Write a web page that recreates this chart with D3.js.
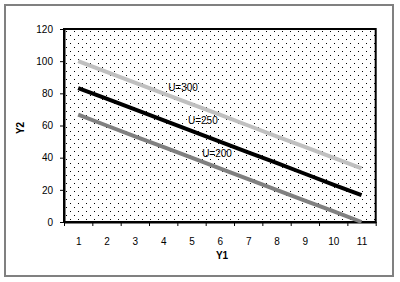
<!DOCTYPE html>
<html>
<head>
<meta charset="utf-8">
<script src="https://cdn.jsdelivr.net/npm/d3@7"></script>
<style>
  body { margin: 0; background: #fff; }
  text { font-family: Arial, "Liberation Sans", sans-serif; }
</style>
</head>
<body>
<div id="grafico"></div>
<script>
// datos
const categoriasY1 = [1, 2, 3, 4, 5, 6, 7, 8, 9, 10, 11];
const serieU300 = [100, 93.3, 86.7, 80, 73.3, 66.7, 60, 53.3, 46.7, 40, 33.3];
const serieU250 = [83.3, 76.7, 70, 63.3, 56.7, 50, 43.3, 36.7, 30, 23.3, 16.7];
const serieU200 = [66.7, 60, 53.3, 46.7, 40, 33.3, 26.7, 20, 13.3, 6.7, 0];
const nombresSeries = ["U=300", "U=250", "U=200"];
const ticksY2 = [0, 20, 40, 60, 80, 100, 120];

const width = 400;
const height = 282;
const plot = { left: 64, top: 29, right: 375.7, bottom: 222 };

const svg = d3.select("#grafico")
  .append("svg")
  .attr("width", width)
  .attr("height", height);

// patrón de puntos del área de trazado
const defs = svg.append("defs");
const pat = defs.append("pattern")
  .attr("id", "puntos")
  .attr("patternUnits", "userSpaceOnUse")
  .attr("width", 8).attr("height", 8)
  .attr("x", plot.left + 2).attr("y", plot.top + 2);
pat.append("rect").attr("width", 8).attr("height", 8).attr("fill", "#fff");
pat.append("rect").attr("x", 0).attr("y", 0).attr("width", 1).attr("height", 1).attr("fill", "#000");
pat.append("rect").attr("x", 4).attr("y", 4).attr("width", 1).attr("height", 1).attr("fill", "#000");

// marco exterior
svg.append("rect")
  .attr("x", 5).attr("y", 5)
  .attr("width", 388).attr("height", 271)
  .attr("fill", "#fff")
  .attr("stroke", "#808080")
  .attr("stroke-width", 2);

const x = d3.scaleLinear()
  .domain([0.5, categoriasY1.length + 0.5])
  .range([plot.left, plot.right]);

const y = d3.scaleLinear()
  .domain([0, 120])
  .range([plot.bottom, plot.top]);

svg.append("rect")
  .attr("x", plot.left).attr("y", plot.top)
  .attr("width", plot.right - plot.left)
  .attr("height", plot.bottom - plot.top)
  .attr("fill", "url(#puntos)")
  .attr("stroke", "#000")
  .attr("stroke-width", 2);

// eje Y
const ejeY = svg.append("g")
  .attr("transform", `translate(${plot.left},0)`)
  .call(d3.axisLeft(y).tickValues(ticksY2).tickSize(4).tickPadding(7).tickSizeOuter(0));
ejeY.select(".domain").attr("stroke-width", 2);
ejeY.selectAll("text").style("font-size", "10px").attr("fill", "#000");

// eje X: marcas entre categorías y etiquetas centradas
const bordes = d3.range(0.5, categoriasY1.length + 1, 1);
const ejeX = svg.append("g")
  .attr("transform", `translate(0,${plot.bottom})`)
  .call(d3.axisBottom(x).tickValues(bordes).tickFormat("").tickSize(4).tickSizeOuter(0));
ejeX.select(".domain").attr("stroke-width", 2);

const etiquetasX = svg.append("g")
  .attr("transform", `translate(0,${plot.bottom})`)
  .call(d3.axisBottom(x).tickValues(categoriasY1).tickSize(0).tickPadding(16));
etiquetasX.select(".domain").remove();
etiquetasX.selectAll("text").style("font-size", "10px").attr("fill", "#000");

// líneas
const series = [
  { nombre: nombresSeries[0], valores: serieU300, color: "#c0c0c0", lx: 4.7, ly: 81.5 },
  { nombre: nombresSeries[1], valores: serieU250, color: "#000000", lx: 5.4, ly: 61 },
  { nombre: nombresSeries[2], valores: serieU200, color: "#808080", lx: 5.9, ly: 40.4 }
];

const linea = d3.line()
  .x((d, i) => x(categoriasY1[i]))
  .y(d => y(d));

svg.selectAll(".serie")
  .data(series)
  .join("path")
  .attr("class", "serie")
  .attr("d", d => linea(d.valores))
  .attr("fill", "none")
  .attr("stroke", d => d.color)
  .attr("stroke-width", 4);

svg.selectAll(".etiqueta-serie")
  .data(series)
  .join("text")
  .attr("class", "etiqueta-serie")
  .attr("x", d => x(d.lx))
  .attr("y", d => y(d.ly))
  .attr("text-anchor", "middle")
  .style("font-size", "10px")
  .attr("fill", "#000")
  .text(d => d.nombre);

// títulos de ejes
svg.append("text")
  .attr("x", 222).attr("y", 259)
  .attr("text-anchor", "middle")
  .style("font-size", "10px").style("font-weight", "bold")
  .text("Y1");

svg.append("text")
  .attr("transform", "translate(24,128) rotate(-90)")
  .attr("text-anchor", "middle")
  .style("font-size", "10px").style("font-weight", "bold")
  .text("Y2");
</script>
</body>
</html>
